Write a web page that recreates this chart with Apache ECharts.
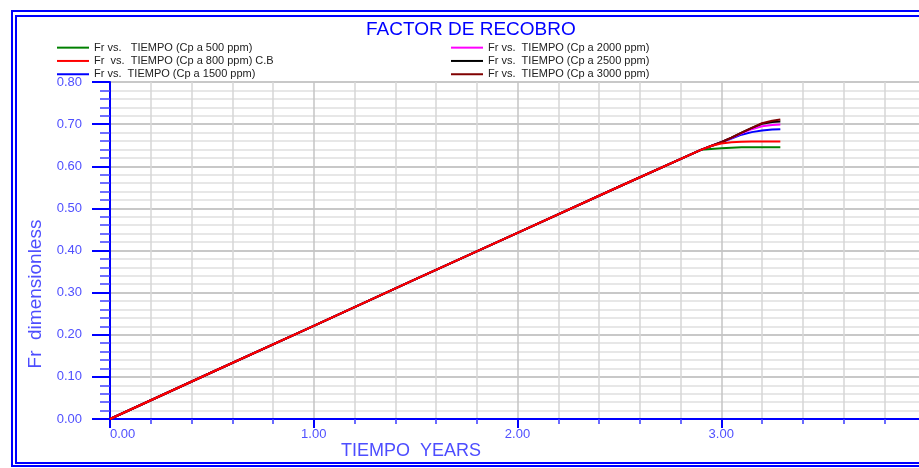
<!DOCTYPE html>
<html>
<head>
<meta charset="utf-8">
<script src="https://cdn.jsdelivr.net/npm/echarts@6/dist/echarts.min.js"></script>
<style>
html,body{margin:0;padding:0;background:#fff;overflow:hidden;width:919px;height:468px;}
#c{width:925px;height:468px;}
</style>
</head>
<body>
<div id="c"></div>
<script>
// ---- data ----
const years = [0, 0.5, 1.0, 1.5, 2.0, 2.5, 2.9, 2.95, 3.0, 3.05, 3.1, 3.15, 3.2, 3.25, 3.29];
const fr500  = [0, 0.111, 0.221, 0.332, 0.442, 0.552, 0.639, 0.641, 0.643, 0.644, 0.645, 0.645, 0.645, 0.645, 0.645];
const fr800  = [0, 0.111, 0.221, 0.332, 0.442, 0.552, 0.639, 0.648, 0.654, 0.657, 0.658, 0.659, 0.659, 0.659, 0.659];
const fr1500 = [0, 0.111, 0.221, 0.332, 0.442, 0.552, 0.639, 0.648, 0.657, 0.666, 0.675, 0.681, 0.685, 0.687, 0.688];
const fr2000 = [0, 0.111, 0.221, 0.332, 0.442, 0.552, 0.639, 0.648, 0.657, 0.667, 0.678, 0.688, 0.695, 0.698, 0.699];
const fr2500 = [0, 0.111, 0.221, 0.332, 0.442, 0.552, 0.639, 0.648, 0.657, 0.668, 0.680, 0.691, 0.701, 0.705, 0.706];
const fr3000 = [0, 0.111, 0.221, 0.332, 0.442, 0.552, 0.639, 0.648, 0.657, 0.668, 0.680, 0.691, 0.702, 0.708, 0.711];
const seriesNames = [
  'Fr vs.   TIEMPO (Cp a 500 ppm)',
  'Fr  vs.  TIEMPO (Cp a 800 ppm) C.B',
  'Fr vs.  TIEMPO (Cp a 1500 ppm)',
  'Fr vs.  TIEMPO (Cp a 2000 ppm)',
  'Fr vs.  TIEMPO (Cp a 2500 ppm)',
  'Fr vs.  TIEMPO (Cp a 3000 ppm)'
];
const seriesValues = [fr500, fr800, fr1500, fr2000, fr2500, fr3000];
const seriesColors = ['#008000', '#ff0000', '#0000ff', '#ff00ff', '#000000', '#800000'];
const titleText = 'FACTOR DE RECOBRO';
const xTitle = 'TIEMPO  YEARS';
const yTitle = 'Fr  dimensionless';

// ---- chart ----
const chart = echarts.init(document.getElementById('c'), null, {renderer: 'canvas'});
const font = '"Liberation Sans", Arial, sans-serif';
const labelBlue = '#5050ff';

const series = seriesNames.map((n, i) => ({
  name: n,
  type: 'line',
  data: years.map((x, k) => [x, seriesValues[i][k]]),
  showSymbol: false,
  symbol: 'none',
  lineStyle: {color: seriesColors[i], width: 2},
  itemStyle: {color: seriesColors[i]},
  z: i === 1 ? 10 : 2 + i,
  animation: false
}));

const legendCommon = {
  orient: 'vertical',
  icon: 'rect',
  itemWidth: 32,
  itemHeight: 2,
  itemGap: 0,
  selectedMode: false,
  padding: 0,
  textStyle: {fontFamily: font, fontSize: 11, color: '#222', lineHeight: 13.3}
};

chart.setOption({
  animation: false,
  backgroundColor: '#fff',
  title: {
    text: titleText,
    left: 366,
    top: 20,
    padding: 0,
    textStyle: {fontFamily: font, fontSize: 19, fontWeight: 'normal', color: '#0000ff'}
  },
  legend: [
    Object.assign({left: 57, top: 41, data: seriesNames.slice(0, 3)}, legendCommon),
    Object.assign({left: 451, top: 41, data: seriesNames.slice(3)}, legendCommon)
  ],
  grid: {left: 110, top: 82, bottom: 49, right: 0, containLabel: false},
  xAxis: {
    type: 'value',
    min: 0, max: 4, interval: 1,
    axisLine: {show: true, onZero: false, lineStyle: {color: '#0000ff', width: 2}},
    axisTick: {show: true, inside: false, length: 9, lineStyle: {color: '#0000ff', width: 2}},
    minorTick: {show: true, splitNumber: 5, length: 5, lineStyle: {color: '#3a3aff', width: 1.5}},
    axisLabel: {
      margin: 9, color: labelBlue, fontFamily: font, fontSize: 13,
      formatter: v => v.toFixed(2), showMaxLabel: false, alignMinLabel: 'left'
    },
    splitLine: {show: true, lineStyle: {color: '#c4c4c4', width: 1.5}},
    minorSplitLine: {show: true, lineStyle: {color: '#d6d6d6', width: 1.5}}
  },
  yAxis: {
    type: 'value',
    min: 0, max: 0.8, interval: 0.1,
    axisLine: {show: true, onZero: false, lineStyle: {color: '#0000ff', width: 2}},
    axisTick: {show: true, inside: false, length: 18, lineStyle: {color: '#0000ff', width: 2}},
    minorTick: {show: true, splitNumber: 5, length: 10, lineStyle: {color: '#4040ff', width: 1.5}},
    axisLabel: {
      margin: 28, color: labelBlue, fontFamily: font, fontSize: 13,
      formatter: v => v.toFixed(2)
    },
    splitLine: {show: true, lineStyle: {color: '#c8c8c8', width: 2}},
    minorSplitLine: {show: true, lineStyle: {color: '#e0e0e0', width: 1.5}}
  },
  graphic: [
    {type: 'rect', silent: true, z: 100, shape: {x: 12, y: 11, width: 930, height: 455},
      style: {fill: 'none', stroke: '#0000ff', lineWidth: 2}},
    {type: 'rect', silent: true, z: 100, shape: {x: 16, y: 16, width: 920, height: 447},
      style: {fill: 'none', stroke: '#0000ff', lineWidth: 2}},
    {type: 'text', silent: true, z: 100, x: 411, y: 451,
      style: {text: xTitle, fill: '#4d4dff', font: '18px ' + font, textAlign: 'center', textVerticalAlign: 'middle'}},
    {type: 'text', silent: true, z: 100, x: 36, y: 294, rotation: Math.PI / 2,
      style: {text: yTitle, fill: '#4d4dff', font: '19px ' + font, textAlign: 'center', textVerticalAlign: 'middle'}}
  ],
  series: series
});
</script>
</body>
</html>
